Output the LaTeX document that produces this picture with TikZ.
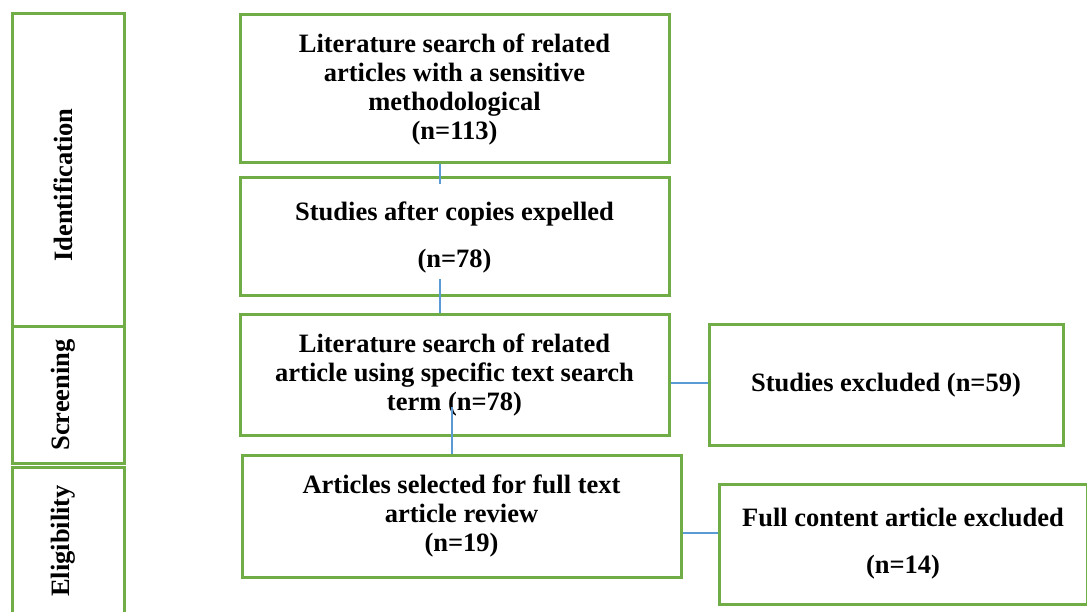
\documentclass[tikz,border=0pt]{standalone}
\usepackage{fontspec}
\setmainfont{Liberation Serif}
\begin{document}
\begin{tikzpicture}[x=1pt,y=-1pt,
  box/.style={draw=boxgreen,line width=3pt,fill=white,align=center,inner sep=0pt,
    font=\fontsize{26.5}{29}\selectfont\bfseries},
  side/.style={draw=boxgreen,line width=3pt,inner sep=0pt,minimum width=112pt},
  sidelabel/.style={rotate=90,font=\fontsize{26.5}{29}\selectfont\bfseries,inner sep=0pt},
  conn/.style={draw=linkblue,line width=1.2pt}]
\definecolor{boxgreen}{HTML}{70AD47}
\definecolor{linkblue}{HTML}{5B9BD5}
\useasboundingbox (0,0) rectangle (1087,612);
\clip (0,0) rectangle (1087,612);
\fill[white] (0,0) rectangle (1087,612);
% side boxes
\node[side,minimum height=313pt] (sid) at (68,170.5) {};
\node[side,minimum height=136pt] (ssc) at (68,395) {};
\node[side,minimum height=160pt] (sel) at (68,547) {};
\node[sidelabel] (lid) at (63,185) {Identification};
\node[sidelabel] (lsc) at (63,395) {Screening};
\node[sidelabel] (lel) at (63,541) {Eligibility};
% main boxes
\node[box,minimum width=429pt,minimum height=148pt] (b1) at (454.5,89)
  {Literature search of related\\articles with a sensitive\\methodological\\(n=113)};
\node[box,minimum width=429pt,minimum height=118pt] (b2) at (454.5,237)
  {Studies after copies expelled\\[18pt](n=78)};
\node[box,minimum width=429pt,minimum height=120pt] (b3) at (454.5,375)
  {Literature search of related\\article using specific text search\\term (n=78)};
\node[box,minimum width=439pt,minimum height=122pt] (b4) at (461.5,516)
  {Articles selected for full text\\article review\\(n=19)};
\node[box,minimum width=354pt,minimum height=120pt] (e1) at (886,385)
  {Studies excluded (n=59)};
\node[box,minimum width=368pt,minimum height=120pt] (e2) at (903,544)
  {Full content article excluded\\[18pt](n=14)};
% connectors
\draw[conn] ([xshift=-14.5pt]b1.south) -- ([xshift=-14.5pt,yshift=-8pt]b2.north);
\draw[conn] ([xshift=-14.5pt,yshift=18pt]b2.south) -- ([xshift=-14.5pt]b3.north);
\draw[conn] ([xshift=-2.5pt,yshift=30pt]b3.south) -- ([xshift=-9.5pt]b4.north);
\draw[conn] ([yshift=-8pt]b3.east) -- ([yshift=-8pt]b3.east -| e1.west);
\draw[conn] ([yshift=-17pt]b4.east) -- ([yshift=-17pt]b4.east -| e2.west);
\end{tikzpicture}
\end{document}
